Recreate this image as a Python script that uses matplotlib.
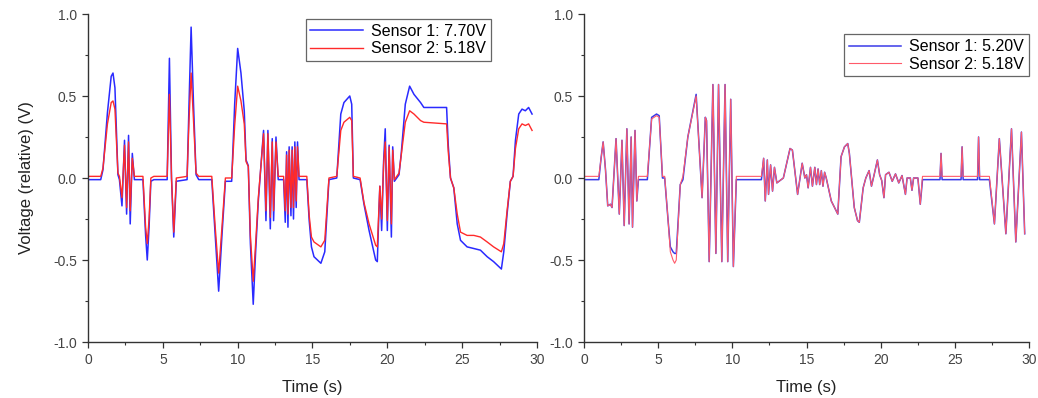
import matplotlib
matplotlib.use("Agg")
import matplotlib.pyplot as plt
from matplotlib.ticker import MultipleLocator

plt.rcParams['font.family'] = ['Liberation Sans', 'DejaVu Sans']

# ---- left panel: supply 7.70 V vs 5.18 V ----
t_left = [0.0, 0.85, 1.0, 1.3, 1.55, 1.67, 1.8, 2.0, 2.1, 2.27, 2.44, 2.58, 2.71, 2.82,
          2.96, 3.1, 3.67, 3.85, 3.96, 4.08, 4.2, 4.4, 5.29, 5.44, 5.58, 5.73, 5.9, 6.62,
          6.75, 6.89, 7.05, 7.22, 7.4, 8.27, 8.5, 8.73, 8.95, 9.18, 9.6, 9.8, 10.0, 10.22,
          10.44, 10.56, 10.71, 10.85, 11.04, 11.2, 11.38, 11.73, 11.89, 12.02, 12.18, 12.31,
          12.4, 12.56, 12.71, 13.07, 13.18, 13.27, 13.36, 13.44, 13.56, 13.64, 13.73, 13.82,
          13.91, 14.0, 14.1, 14.62, 14.78, 14.93, 15.1, 15.56, 15.82, 16.1, 16.62, 16.89,
          17.1, 17.49, 17.62, 17.73, 18.18, 18.44, 18.78, 19.22, 19.33, 19.44, 19.5, 19.62,
          19.75, 19.86, 20.0, 20.12, 20.27, 20.36, 20.47, 20.78, 20.93, 21.2, 21.49, 21.78,
          22.22, 22.44, 23.96, 24.07, 24.22, 24.44, 24.67, 24.89, 25.33, 25.78, 26.22, 26.67,
          27.1, 27.62, 27.78, 28.0, 28.22, 28.4, 28.56, 28.78, 29.0, 29.22, 29.44, 29.67]
s1_left = [-0.01, -0.01, 0.05, 0.40, 0.62, 0.64, 0.55, 0.02, -0.01, -0.17, 0.23, -0.22, 0.26, -0.28,
           0.15, -0.01, -0.01, -0.35, -0.50, -0.30, -0.02, -0.01, -0.01, 0.73, 0.0, -0.36, -0.02, -0.01,
           0.45, 0.92, 0.45, 0.02, -0.01, -0.01, -0.35, -0.69, -0.35, -0.02, -0.02, 0.45, 0.79, 0.64,
           0.41, 0.11, 0.075, -0.40, -0.77, -0.45, -0.14, 0.29, -0.26, 0.29, -0.31, 0.24,
           -0.26, 0.25, -0.01, -0.01, -0.27, 0.16, -0.30, 0.19, -0.23, 0.19, -0.25, 0.22,
           -0.18, 0.22, -0.01, -0.01, -0.26, -0.42, -0.48, -0.52, -0.45, -0.01, 0.0, 0.39,
           0.46, 0.50, 0.45, 0.0, -0.01, -0.16, -0.32, -0.50, -0.51, -0.20, -0.05, -0.32,
           0.10, 0.30, -0.32, 0.20, -0.36, 0.19, -0.02, 0.02, 0.15, 0.45, 0.56, 0.51,
           0.46, 0.43, 0.43, 0.20, 0.0, -0.06, -0.28, -0.38, -0.42, -0.43, -0.44, -0.48,
           -0.51, -0.555, -0.45, -0.22, -0.02, 0.01, 0.23, 0.39, 0.42, 0.41, 0.43, 0.39]
s2_left = [0.01, 0.01, 0.06, 0.33, 0.46, 0.47, 0.42, 0.03, 0.01, -0.12, 0.20, -0.18, 0.22, -0.20,
           0.12, 0.01, 0.01, -0.30, -0.40, -0.25, 0.0, 0.01, 0.01, 0.51, 0.0, -0.33, 0.0, 0.01,
           0.35, 0.64, 0.35, 0.03, 0.01, 0.01, -0.30, -0.58, -0.30, 0.0, 0.0, 0.32, 0.56, 0.47,
           0.33, 0.10, 0.07, -0.35, -0.63, -0.40, -0.12, 0.27, -0.20, 0.27, -0.24, 0.22,
           -0.20, 0.22, 0.01, 0.01, -0.20, 0.14, -0.22, 0.17, -0.18, 0.17, -0.18, 0.19,
           -0.14, 0.19, 0.01, 0.01, -0.23, -0.36, -0.39, -0.42, -0.38, 0.0, 0.01, 0.29,
           0.34, 0.37, 0.35, 0.01, 0.0, -0.15, -0.28, -0.41, -0.42, -0.18, -0.05, -0.25,
           0.08, 0.22, -0.26, 0.19, -0.28, 0.17, -0.01, 0.03, 0.14, 0.34, 0.41, 0.39,
           0.35, 0.34, 0.33, 0.16, 0.0, -0.06, -0.22, -0.33, -0.35, -0.35, -0.36, -0.39,
           -0.42, -0.45, -0.40, -0.20, -0.02, 0.01, 0.18, 0.30, 0.33, 0.32, 0.33, 0.29]

# ---- right panel: supply 5.20 V vs 5.18 V ----
t_right = [0.0, 1.0, 1.15, 1.29, 1.45, 1.6, 1.78, 1.89, 2.16, 2.38, 2.56, 2.71, 2.89, 3.04,
           3.18, 3.27, 3.44, 3.56, 3.67, 4.27, 4.56, 4.89, 5.07, 5.29, 5.44, 5.67, 5.82, 6.0,
           6.11, 6.22, 6.49, 6.67, 7.0, 7.56, 7.96, 8.18, 8.26, 8.44, 8.69, 8.89, 9.07, 9.29,
           9.51, 9.69, 9.89, 10.07, 10.27, 11.96, 12.11, 12.22, 12.36, 12.44, 12.58, 12.71,
           12.84, 13.0, 13.44, 13.89, 14.05, 14.4, 14.71, 14.89, 15.0, 15.11, 15.27, 15.4,
           15.56, 15.67, 15.78, 15.89, 16.0, 16.11, 16.22, 16.33, 16.67, 17.11, 17.33, 17.56,
           17.78, 17.89, 18.22, 18.44, 18.56, 18.82, 19.0, 19.22, 19.38, 19.56, 19.78, 19.93,
           20.07, 20.22, 20.33, 20.56, 20.78, 21.0, 21.22, 21.44, 21.67, 21.78, 22.0, 22.11,
           22.22, 22.51, 22.67, 22.82, 24.0, 24.07, 24.14, 25.42, 25.49, 25.56, 26.53, 26.6,
           26.67, 27.33, 27.67, 28.0, 28.44, 28.82, 29.11, 29.49, 29.71]
s1_right = [-0.01, -0.01, 0.12, 0.22, 0.05, -0.17, -0.16, -0.18, 0.24, -0.22, 0.23, -0.29, 0.30, -0.28,
            0.25, -0.30, 0.29, -0.14, -0.01, -0.01, 0.37, 0.39, 0.38, 0.0, 0.0, -0.26, -0.42, -0.45,
            -0.46, -0.46, -0.04, -0.01, 0.25, 0.51, -0.12, 0.37, 0.35, -0.51, 0.57, -0.46, 0.57, -0.51,
            0.57, -0.51, 0.48, -0.54, -0.01, -0.01, 0.12, -0.14, 0.11, -0.10, 0.08, -0.08,
            0.065, -0.03, 0.0, 0.18, 0.17, -0.10, 0.09, 0.0, 0.02, -0.06, 0.065, -0.05,
            0.065, -0.04, 0.055, -0.04, 0.045, -0.05, 0.035, 0.0, -0.14, -0.22, 0.13, 0.19,
            0.21, 0.15, -0.18, -0.26, -0.27, -0.06, 0.0, 0.045, -0.05, 0.02, 0.11, 0.02,
            -0.015, -0.12, 0.02, 0.035, -0.02, 0.025, -0.03, 0.015, -0.10, 0.0, 0.0, -0.075,
            0.0, 0.0, -0.16, -0.01, -0.01, 0.15, -0.01, -0.01, 0.19, -0.01, -0.01, 0.25,
            -0.01, -0.01, -0.28, 0.24, -0.34, 0.30, -0.39, 0.28, -0.34]
s2_right = [0.01, 0.01, 0.12, 0.22, 0.05, -0.17, -0.16, -0.18, 0.24, -0.22, 0.23, -0.29, 0.30, -0.28,
            0.25, -0.30, 0.29, -0.14, 0.01, 0.01, 0.36, 0.38, 0.37, 0.01, 0.01, -0.26, -0.45, -0.50,
            -0.52, -0.50, -0.04, 0.01, 0.25, 0.50, -0.12, 0.37, 0.35, -0.51, 0.57, -0.46, 0.57, -0.51,
            0.57, -0.51, 0.48, -0.54, 0.01, 0.01, 0.12, -0.14, 0.11, -0.10, 0.08, -0.08,
            0.065, -0.03, 0.0, 0.18, 0.17, -0.10, 0.09, 0.0, 0.02, -0.06, 0.065, -0.05,
            0.065, -0.04, 0.055, -0.04, 0.045, -0.05, 0.035, 0.0, -0.14, -0.22, 0.13, 0.19,
            0.21, 0.15, -0.18, -0.26, -0.27, -0.06, 0.0, 0.045, -0.05, 0.02, 0.11, 0.02,
            -0.015, -0.12, 0.02, 0.035, -0.02, 0.025, -0.03, 0.015, -0.10, 0.0, 0.0, -0.075,
            0.0, 0.0, -0.16, 0.01, 0.01, 0.15, 0.01, 0.01, 0.19, 0.01, 0.01, 0.25,
            0.01, 0.01, -0.28, 0.24, -0.34, 0.30, -0.39, 0.28, -0.34]

labels_left = ['Sensor 1: 7.70V', 'Sensor 2: 5.18V']
labels_right = ['Sensor 1: 5.20V', 'Sensor 2: 5.18V']

fig = plt.figure(figsize=(10.38, 3.98), dpi=100)
ax1 = fig.add_axes([88 / 1038, 56 / 398, 449 / 1038, 328 / 398])
ax2 = fig.add_axes([584 / 1038, 56 / 398, 445 / 1038, 328 / 398])

ax1.plot(t_left, s1_left, color='#2a2aff', lw=1.1, label=labels_left[0])
ax1.plot(t_left, s2_left, color='#ff2a2a', lw=1.0, label=labels_left[1])
ax2.plot(t_right, s1_right, color='#3a3ae8', lw=1.1, label=labels_right[0])
ax2.plot(t_right, s2_right, color='#ff5a6a', lw=0.8, label=labels_right[1])

for ax in (ax1, ax2):
    ax.set_xlim(0, 30)
    ax.set_ylim(-1.0, 1.0)
    ax.xaxis.set_major_locator(MultipleLocator(5))
    ax.xaxis.set_minor_locator(MultipleLocator(2.5))
    ax.yaxis.set_major_locator(MultipleLocator(0.5))
    ax.yaxis.set_minor_locator(MultipleLocator(0.25))
    ax.yaxis.set_major_formatter(matplotlib.ticker.FormatStrFormatter('%.1f'))
    ax.spines['top'].set_visible(False)
    ax.spines['right'].set_visible(False)
    for s in ('left', 'bottom'):
        ax.spines[s].set_linewidth(1.0)
        ax.spines[s].set_color('#333333')
    ax.tick_params(which='major', direction='out', length=4.5, width=0.9,
                   labelsize=10, colors='#333333', labelcolor='#444444')
    ax.tick_params(which='minor', direction='out', length=2.5, width=0.8, colors='#333333')
    ax.set_xlabel('Time (s)', fontsize=12, labelpad=9, color='#222222')

ax1.set_ylabel('Voltage (relative) (V)', fontsize=12, labelpad=14, color='#222222')

leg_kw = dict(loc='upper right', fontsize=11.5, fancybox=False, framealpha=1,
              edgecolor='#666666', borderaxespad=0, handlelength=3.3,
              handletextpad=0.5, labelspacing=0.15, borderpad=0.3)
l1 = ax1.legend(bbox_to_anchor=(0.897, 0.985), **leg_kw)
l2 = ax2.legend(bbox_to_anchor=(1.0, 0.938), **leg_kw)
for leg in (l1, l2):
    leg.get_frame().set_linewidth(0.9)

fig.savefig('out.png', dpi=100, facecolor='white')
